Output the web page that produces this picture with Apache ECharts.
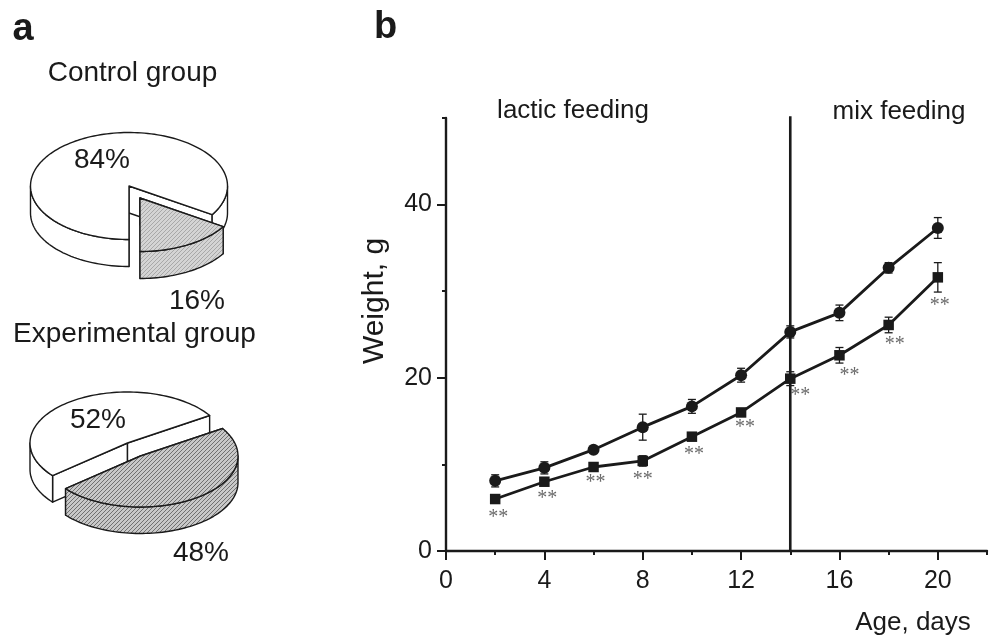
<!DOCTYPE html>
<html>
<head>
<meta charset="utf-8">
<style>html,body{margin:0;padding:0;background:#fff}#chart{width:990px;height:638px}</style>
<script src="https://cdn.jsdelivr.net/npm/echarts@6/dist/echarts.min.js"></script>
</head>
<body>
<div id="chart"></div>
<script>
// ---- data ----
const ages = [2, 4, 6, 8, 10, 12, 14, 16, 18, 20];
const controlWeight = [8.1, 9.6, 11.7, 14.3, 16.7, 20.3, 25.3, 27.5, 32.7, 37.3];
const controlError  = [0.7, 0.7, 0.3, 1.5, 0.8, 0.8, 0.7, 0.9, 0.6, 1.2];
const expWeight = [6.0, 8.0, 9.7, 10.4, 13.2, 16.0, 19.9, 22.6, 26.1, 31.6];
const expError  = [0.2, 0.3, 0.3, 0.6, 0.3, 0.3, 0.8, 0.9, 0.9, 1.7];
const phaseBoundary = 14;
const boundaryTop = 50.2;
const xMajor = [0, 4, 8, 12, 16, 20];
const xMinor = [2, 6, 10, 14, 18, 22];
const yMajor = [0, 20, 40];
const yMinor = [10, 30, 50];
const controlShares = [84, 16];
const experimentalShares = [52, 48];

// ---- layout and styling ----
const INK = '#1a1a1a';
const FONT = '"Liberation Sans", Arial, sans-serif';
const starOffsets = [[3,19],[3,17],[2,16],[0,18.5],[2,18.5],[4,15],[10,17],[10,20],[6,20],[2,28]];

function hatch(dark, light) {
  const c = document.createElement('canvas');
  c.width = c.height = 4;
  const g = c.getContext('2d');
  g.fillStyle = light; g.fillRect(0, 0, 4, 4);
  g.fillStyle = dark;
  for (let i = 0; i < 4; i++) g.fillRect(i, 3 - i, 1, 1);
  return c;
}

function arc(cx, cy, rx, ry, a0, a1) {
  const pts = [], n = Math.max(2, Math.ceil(Math.abs(a1 - a0) / 2));
  for (let i = 0; i <= n; i++) {
    const t = (a0 + (a1 - a0) * i / n) * Math.PI / 180;
    pts.push([cx + rx * Math.cos(t), cy + ry * Math.sin(t)]);
  }
  return pts;
}
function poly(points, fill) {
  return { type: 'polygon', shape: { points }, silent: true,
    style: { fill, stroke: INK, lineWidth: 1.4, lineJoin: 'round' } };
}
function sliceShapes(p, a0, a1, fill) {
  const { rx, ry, depth } = p;
  const cx = p.cx + (p.off ? p.off[0] : 0), cy = p.cy + (p.off ? p.off[1] : 0);
  const out = [];
  [a0, a1].forEach(a => {
    const e = arc(cx, cy, rx, ry, a, a)[0];
    out.push(poly([[cx, cy], e, [e[0], e[1] + depth], [cx, cy + depth]], fill));
  });
  // outer wall: only the front half (0..180, modulo 360) is visible
  for (let k = -1; k <= 1; k++) {
    const s = Math.max(a0, k * 360), t = Math.min(a1, k * 360 + 180);
    if (t > s) {
      const top = arc(cx, cy, rx, ry, s, t);
      const low = top.map(q => [q[0], q[1] + depth]).reverse();
      out.push(poly(top.concat(low), fill));
    }
  }
  out.push(poly([[cx, cy]].concat(arc(cx, cy, rx, ry, a0, a1)), fill));
  return out;
}
function pieSeries(shares, geo, fill) {
  return {
    type: 'custom', coordinateSystem: 'none', silent: true, animation: false, z: 3,
    data: shares.map((v, i) => [v, i]),
    renderItem(params, api) {
      const whiteSweep = shares[0] * 3.6, graySweep = shares[1] * 3.6;
      const children = api.value(1) === 0
        ? sliceShapes(geo, geo.grayEnd, geo.grayEnd + whiteSweep, '#fff')
        : sliceShapes(Object.assign({ off: geo.explode }, geo), geo.grayEnd - graySweep, geo.grayEnd, fill);
      return { type: 'group', children };
    }
  };
}
function errorSeries(ys, errs) {
  return {
    type: 'custom', xAxisIndex: 0, yAxisIndex: 0, silent: true, z: 4, animation: false,
    encode: { x: 0, y: 1 },
    data: ages.map((x, i) => [x, ys[i], errs[i]]),
    renderItem(params, api) {
      const x = api.value(0), y = api.value(1), e = api.value(2);
      const hi = api.coord([x, y + e]), lo = api.coord([x, y - e]);
      const style = { stroke: INK, lineWidth: 1.3, fill: 'none' };
      const line = (a, b, c, d) => ({ type: 'line', shape: { x1: a, y1: b, x2: c, y2: d }, style });
      return { type: 'group', children: [
        line(hi[0], hi[1], lo[0], lo[1]),
        line(hi[0] - 4, hi[1], hi[0] + 4, hi[1]),
        line(lo[0] - 4, lo[1], lo[0] + 4, lo[1])
      ] };
    }
  };
}
function weightLine(ys, symbol, size) {
  return {
    type: 'line', xAxisIndex: 0, yAxisIndex: 0, z: 5, animation: false, silent: true,
    data: ages.map((x, i) => [x, ys[i]]), symbol, symbolSize: size, showSymbol: true,
    lineStyle: { color: INK, width: 2.8 }, itemStyle: { color: INK }
  };
}
function text(str, x, y, size, extra) {
  return { type: 'text', x, y, z: 100, silent: true, rotation: (extra && extra.rotation) || 0,
    style: { text: str, fill: INK, font: `${(extra && extra.weight) || 'normal'} ${size}px ${FONT}`,
      align: 'center', verticalAlign: 'middle' } };
}
const baseAxis = {
  min: 0, axisLine: { onZero: false, lineStyle: { color: INK, width: 2.4 } },
  splitLine: { show: false }
};
const labelStyle = { color: INK, fontSize: 25, fontFamily: FONT };

const chart = echarts.init(document.getElementById('chart'), null, { renderer: 'canvas' });
chart.setOption({
  animation: false,
  backgroundColor: '#fff',
  grid: { left: 446, top: 118, width: 541, height: 433 },
  xAxis: [
    Object.assign({}, baseAxis, { type: 'value', position: 'bottom', max: 22, interval: 4,
      axisTick: { length: 9, customValues: xMajor, lineStyle: { color: INK, width: 2 } },
      axisLabel: Object.assign({ customValues: xMajor, margin: 18 }, labelStyle) }),
    Object.assign({}, baseAxis, { type: 'value', position: 'bottom', max: 22, interval: 2,
      axisLine: { show: false, onZero: false },
      axisTick: { length: 4, customValues: xMinor, lineStyle: { color: INK, width: 2 } },
      axisLabel: { show: false } })
  ],
  yAxis: [
    Object.assign({}, baseAxis, { type: 'value', position: 'left', max: 50, interval: 10,
      axisTick: { length: 9, customValues: yMajor, lineStyle: { color: INK, width: 2 } },
      axisLabel: Object.assign({ customValues: yMajor, margin: 14 }, labelStyle) }),
    Object.assign({}, baseAxis, { type: 'value', position: 'left', max: 50, interval: 10,
      axisLine: { show: false, onZero: false },
      axisTick: { length: 4, customValues: yMinor, lineStyle: { color: INK, width: 2 } },
      axisLabel: { show: false } })
  ],
  series: [
    pieSeries(controlShares, { cx: 129, cy: 186, rx: 98.5, ry: 53.5, depth: 27, grayEnd: 90, explode: [11, 12] }, { image: hatch('#a8a8a8', '#d4d4d4'), repeat: 'repeat' }),
    pieSeries(experimentalShares, { cx: 127.5, cy: 443, rx: 97.5, ry: 51, depth: 26.5, grayEnd: 140.2, explode: [13, 13] }, { image: hatch('#707070', '#c8c8c8'), repeat: 'repeat' }),
    {
      type: 'line', xAxisIndex: 0, yAxisIndex: 0, z: 2, silent: true, animation: false,
      clip: false, symbol: 'none', lineStyle: { color: INK, width: 2.6 },
      data: [[phaseBoundary, 0], [phaseBoundary, boundaryTop]]
    },
    errorSeries(controlWeight, controlError),
    errorSeries(expWeight, expError),
    weightLine(controlWeight, 'circle', 12),
    weightLine(expWeight, 'rect', 10.5),
    {
      type: 'scatter', xAxisIndex: 0, yAxisIndex: 0, z: 6, silent: true, animation: false,
      symbolSize: 1, itemStyle: { color: 'rgba(0,0,0,0)' },
      label: { show: true, position: 'inside', formatter: '**', color: '#444',
        fontFamily: '"Liberation Serif", serif', fontSize: 20 },
      data: ages.map((x, i) => ({ value: [x, expWeight[i]], label: { offset: starOffsets[i] } }))
    }
  ],
  graphic: [
    text('a', 23, 30, 38, { weight: 'bold' }),
    text('b', 385.5, 28, 38, { weight: 'bold' }),
    text('Control group', 132.5, 73, 28),
    text('Experimental group', 134.5, 334, 28),
    text('84%', 102, 160, 28),
    text('16%', 197, 301, 28),
    text('52%', 98, 420, 28),
    text('48%', 201, 553, 28),
    text('lactic feeding', 573, 111, 26),
    text('mix feeding', 899, 112, 26),
    text('Age, days', 913, 623, 26),
    text('Weight, g', 375, 301, 30, { rotation: Math.PI / 2 })
  ]
});
</script>
</body>
</html>
